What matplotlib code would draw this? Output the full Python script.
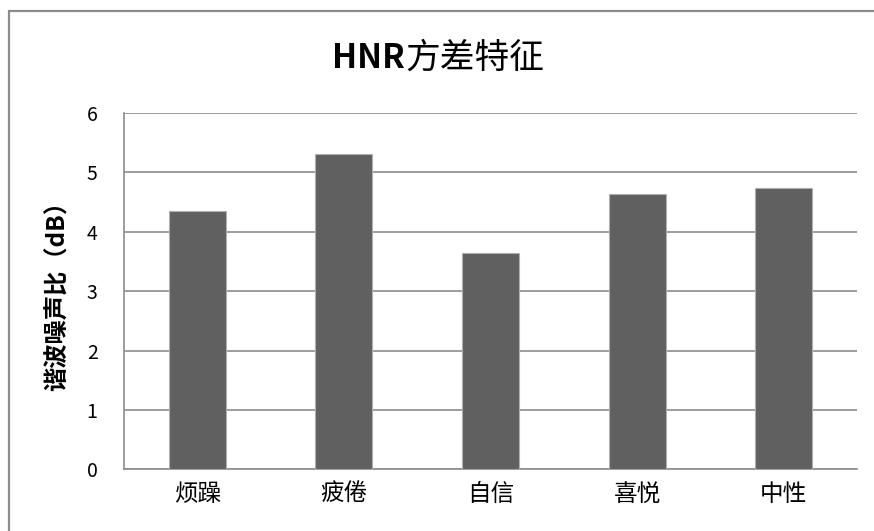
import matplotlib.pyplot as plt
from matplotlib.patches import Rectangle

plt.rcParams['font.family'] = ['Noto Sans CJK SC', 'DejaVu Sans']

categories = ["烦躁", "疲倦", "自信", "喜悦", "中性"]
values = [4.35, 5.31, 3.65, 4.63, 4.74]
yticks = [0, 1, 2, 3, 4, 5, 6]

W, H = 874, 531
fig = plt.figure(figsize=(W / 100, H / 100), dpi=100)
ax = fig.add_axes([124 / W, 1 - 469.3 / H, (857 - 124) / W, (469.3 - 113) / H])

# outer chart frame (only left and top edges visible)
fig.patches.append(Rectangle((9 / W, -0.05), 1.2, 1.05 - 11 / H,
                             transform=fig.transFigure, fill=False,
                             edgecolor="#8c8c8c", linewidth=1.6))

x = range(len(categories))
ax.bar(x, values, width=0.39, color="#606060", edgecolor="#b0b0b0",
       linewidth=0.8, zorder=3)

ax.set_xlim(-0.5, len(categories) - 0.5)
ax.set_ylim(0, 6)
ax.set_yticks(yticks)
ax.set_xticks(list(x))
ax.set_xticklabels(categories, fontsize=17)
ax.tick_params(axis="y", labelsize=14, length=0, pad=19)
ax.tick_params(axis="x", length=0, pad=10)

ax.grid(axis="y", color="#8c8c8c", linewidth=1.2, zorder=0)
for s in ["top", "right"]:
    ax.spines[s].set_visible(False)
for s in ["left", "bottom"]:
    ax.spines[s].set_color("#8c8c8c")
    ax.spines[s].set_linewidth(1.2)

fig.text(58 / W, 1 - 290 / H, "谐波噪声比（dB）", fontsize=17.5,
         fontweight="bold", rotation=90, ha="center", va="center")

# title: latin part bold, Chinese part regular
fig.text(405 / W, 1 - 58 / H, "HNR", fontsize=24, fontweight="bold",
         ha="right", va="center")
fig.text(405 / W, 1 - 58 / H, "方差特征", fontsize=25,
         ha="left", va="center")

fig.savefig("out.png", dpi=100)
